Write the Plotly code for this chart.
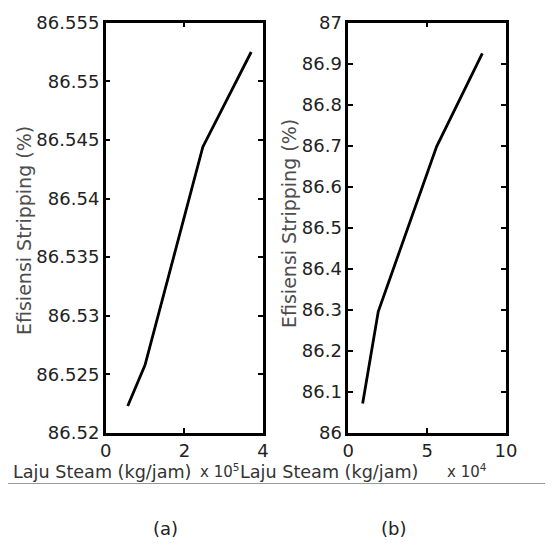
import plotly.graph_objects as go

# Data
steam_a = [0.56, 1.0, 2.47, 3.70]          # x 10^5 kg/jam
eff_a = [86.5223, 86.5258, 86.5444, 86.5525]
steam_b = [0.91, 1.9, 5.6, 8.5]            # x 10^4 kg/jam
eff_b = [86.072, 86.296, 86.698, 86.925]

yticks_a = [86.52, 86.525, 86.53, 86.535, 86.54, 86.545, 86.55, 86.555]
yticklabels_a = ["86.52", "86.525", "86.53", "86.535", "86.54", "86.545", "86.55", "86.555"]
xticks_a = [0, 2, 4]
yticks_b = [86.0, 86.1, 86.2, 86.3, 86.4, 86.5, 86.6, 86.7, 86.8, 86.9, 87.0]
yticklabels_b = ["86", "86.1", "86.2", "86.3", "86.4", "86.5", "86.6", "86.7", "86.8", "86.9", "87"]
xticks_b = [0, 5, 10]

W, H = 553, 547
OFF = 8  # page body margin
def px(x):
    return (x - OFF) / W
def py(y):
    return 1 - (y - OFF) / H

FONT = "DejaVu Sans"

fig = go.Figure()
fig.add_trace(go.Scatter(x=steam_a, y=eff_a, mode="lines",
                         line=dict(color="black", width=2.8),
                         xaxis="x", yaxis="y", showlegend=False))
fig.add_trace(go.Scatter(x=steam_b, y=eff_b, mode="lines",
                         line=dict(color="black", width=2.8),
                         xaxis="x2", yaxis="y2", showlegend=False))

axis_common = dict(showline=True, linecolor="black", linewidth=2.5, mirror="ticks",
                   ticks="inside", ticklen=5, tickwidth=2, tickcolor="black",
                   showgrid=False, zeroline=False, automargin=False,
                   tickfont=dict(family=FONT, size=18, color="#222222"))

fig.update_layout(
    width=W, height=H,
    margin=dict(l=0, r=0, t=0, b=0, autoexpand=False),
    paper_bgcolor="white", plot_bgcolor="white",
    xaxis=dict(domain=[px(105.7), px(263)], range=[0, 4], tickvals=xticks_a,
               ticktext=[str(v) for v in xticks_a], anchor="y", **axis_common),
    yaxis=dict(domain=[py(433), py(22.7)], range=[86.52, 86.555], tickvals=yticks_a,
               ticktext=yticklabels_a, anchor="x", **axis_common),
    xaxis2=dict(domain=[px(348.3), px(506)], range=[0, 10], tickvals=xticks_b,
                ticktext=[str(v) for v in xticks_b], anchor="y2", **axis_common),
    yaxis2=dict(domain=[py(433), py(22.7)], range=[86, 87], tickvals=yticks_b,
                ticktext=yticklabels_b, anchor="x2", **axis_common),
)

ann = []
def add_text(text, x, y, size, color, xanchor="center", yanchor="middle", angle=0):
    ann.append(dict(text=text, x=px(x), y=py(y), xref="paper", yref="paper",
                    xanchor=xanchor, yanchor=yanchor, showarrow=False, textangle=angle,
                    font=dict(family=FONT, size=size, color=color)))

add_text("Efisiensi Stripping (%)", 24, 231, 19, "#4d4d4d", angle=-90)
add_text("Efisiensi Stripping (%)", 289, 224, 19, "#4d4d4d", angle=-90)
add_text("Laju Steam (kg/jam)", 11, 472, 17.6, "#333333", xanchor="left")
add_text("x 10<sup>5</sup>", 198, 471, 15, "#333333", xanchor="left")
add_text("Laju Steam (kg/jam)", 238, 472, 17.6, "#333333", xanchor="left")
add_text("x 10<sup>4</sup>", 445, 471, 15, "#333333", xanchor="left")
add_text("(a)", 165, 528, 18, "#222222")
add_text("(b)", 393, 528, 18, "#222222")
fig.update_layout(annotations=ann)

fig.add_shape(type="line", xref="paper", yref="paper",
              x0=px(8), x1=1, y0=py(483.5), y1=py(483.5),
              line=dict(color="#9a9a9a", width=1))

fig.write_html("out.html")
